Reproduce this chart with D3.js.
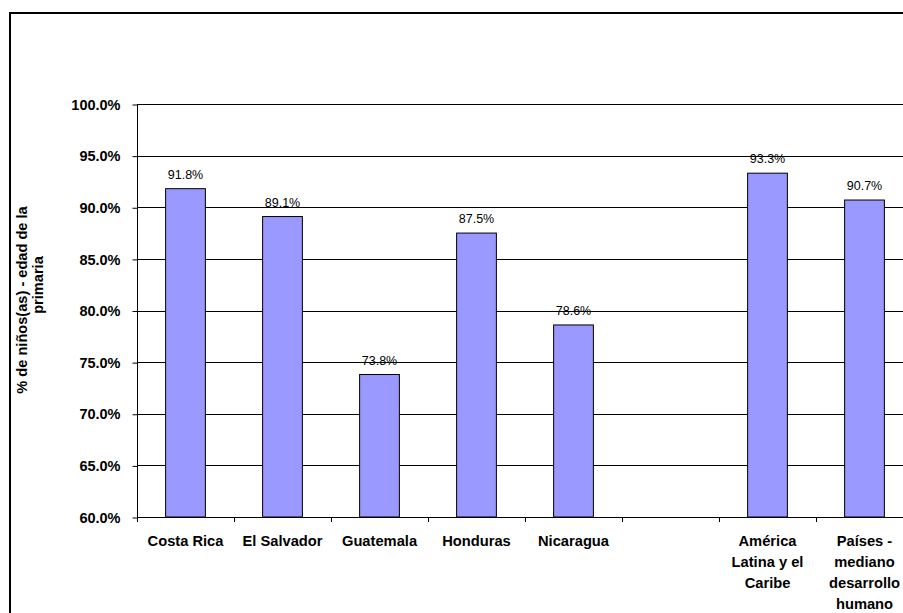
<!DOCTYPE html>
<html>
<head>
<meta charset="utf-8">
<script src="https://cdn.jsdelivr.net/npm/d3@7"></script>
<style>
  html, body { margin: 0; padding: 0; background: #fff; }
  svg { display: block; font-family: "Liberation Sans", Arial, sans-serif; }
</style>
</head>
<body>
<svg id="chart" width="903" height="613"></svg>
<script>
// Categories (one empty slot separates the countries from the regional aggregates)
const categories = ["Costa Rica", "El Salvador", "Guatemala", "Honduras", "Nicaragua", "", "América Latina y el Caribe", "Países - mediano desarrollo humano"];
const categoryLines = [["Costa Rica"], ["El Salvador"], ["Guatemala"], ["Honduras"], ["Nicaragua"], [], ["América", "Latina y el", "Caribe"], ["Países -", "mediano", "desarrollo", "humano"]];
const values = [91.8, 89.1, 73.8, 87.5, 78.6, null, 93.3, 90.7];
const yTicks = [60, 65, 70, 75, 80, 85, 90, 95, 100];
const yTitle = ["% de niños(as) - edad de la", "primaria"];

const svg = d3.select("#chart");

// Outer chart frame (continues past the visible edge on the right and bottom)
svg.append("rect")
  .attr("x", 10).attr("y", 13)
  .attr("width", 1000).attr("height", 700)
  .attr("fill", "none").attr("stroke", "#000").attr("stroke-width", 2);

const plot = { left: 137, right: 913, top: 104, bottom: 517 };

const x = d3.scaleBand().domain(categories).range([plot.left, plot.right]).padding(0);
const y = d3.scaleLinear().domain([60, 100]).range([plot.bottom, plot.top]);
const barW = x.bandwidth() * 0.41;

// Horizontal gridlines
svg.append("g").selectAll("line").data(yTicks.filter(t => t > 60)).join("line")
  .attr("x1", plot.left).attr("x2", plot.right)
  .attr("y1", d => Math.round(y(d)) + 0.5).attr("y2", d => Math.round(y(d)) + 0.5)
  .attr("stroke", "#000").attr("stroke-width", 1);

// Y axis
const yAxis = d3.axisLeft(y).tickValues(yTicks).tickSize(5).tickPadding(12)
  .tickFormat(d => d.toFixed(1) + "%");
const gy = svg.append("g").attr("transform", `translate(${plot.left + 0.5},0.5)`).call(yAxis);
gy.select(".domain").attr("stroke", "#000").attr("d", `M0,${plot.top - 0.5}V${plot.bottom - 0.5}`);
gy.selectAll(".tick line").attr("stroke", "#000");
gy.selectAll(".tick text")
  .attr("font-size", 14.5).attr("font-weight", "bold").attr("fill", "#000")
  .attr("font-family", "Liberation Sans, Arial, sans-serif");

// Bars
const bars = categories.map((c, i) => ({ c, v: values[i] })).filter(d => d.v != null);
svg.append("g").selectAll("rect").data(bars).join("rect")
  .attr("x", d => x(d.c) + (x.bandwidth() - barW) / 2)
  .attr("y", d => y(d.v))
  .attr("width", barW)
  .attr("height", d => y(60) - y(d.v))
  .attr("fill", "#9999FF")
  .attr("stroke", "#000").attr("stroke-width", 1);

// Value labels
svg.append("g").selectAll("text").data(bars).join("text")
  .attr("x", d => x(d.c) + x.bandwidth() / 2)
  .attr("y", d => y(d.v) - 10)
  .attr("text-anchor", "middle")
  .attr("font-size", 12.5).attr("fill", "#000")
  .text(d => d.v.toFixed(1) + "%");

// X axis baseline and category ticks
svg.append("line")
  .attr("x1", plot.left).attr("x2", plot.right)
  .attr("y1", plot.bottom + 0.5).attr("y2", plot.bottom + 0.5)
  .attr("stroke", "#000");
svg.append("g").selectAll("line").data(categories).join("line")
  .attr("x1", d => Math.round(x(d)) + 0.5).attr("x2", d => Math.round(x(d)) + 0.5)
  .attr("y1", plot.bottom).attr("y2", plot.bottom + 5)
  .attr("stroke", "#000");

// Category labels
const labels = svg.append("g").selectAll("text").data(categories).join("text")
  .attr("text-anchor", "middle")
  .attr("font-size", 14.7).attr("font-weight", "bold").attr("fill", "#000")
  .attr("transform", d => `translate(${x(d) + x.bandwidth() / 2},546)`);
labels.each(function(d, i) {
  d3.select(this).selectAll("tspan").data(categoryLines[i]).join("tspan")
    .attr("x", 0).attr("y", (l, j) => j * 21)
    .text(l => l);
});

// Y axis title (two wrapped lines, rotated)
const titleCenters = [300, 285];
svg.append("g").selectAll("text").data(yTitle).join("text")
  .attr("transform", (l, j) => `translate(${27 + j * 16},${titleCenters[j]}) rotate(-90)`)
  .attr("text-anchor", "middle")
  .attr("font-size", 14.6).attr("font-weight", "bold").attr("fill", "#000")
  .text(l => l);
</script>
</body>
</html>
